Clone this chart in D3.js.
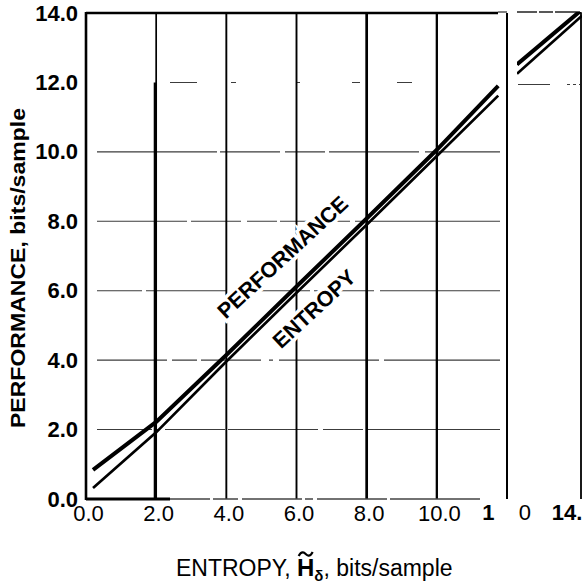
<!DOCTYPE html>
<html>
<head>
<meta charset="utf-8">
<script src="https://cdn.jsdelivr.net/npm/d3@7"></script>
<style>
  html, body { margin: 0; padding: 0; background: #fff; }
  svg { display: block; }
</style>
</head>
<body>
<svg id="chart" width="582" height="585"></svg>
<script>
/* ── Data ───────────────────────────────────────────── */

const entropyTicks  = [0, 2, 4, 6, 8, 10];
const entropyLabels = ['0.0', '2.0', '4.0', '6.0', '8.0', '10.0'];
const perfTicks     = [0, 2, 4, 6, 8, 10, 12, 14];
const perfLabels    = ['0.0', '2.0', '4.0', '6.0', '8.0', '10.0', '12.0', '14.0'];

// Main panel (entropy 0 – 12)
const entropyX     = [0.2, 2.0, 4.0, 6.0, 8.0, 10.0, 11.75];
const entropyCurve = [0.32, 1.92, 3.96, 5.94, 7.90, 9.88, 11.62];
const perfCurve    = [0.84, 2.22, 4.15, 6.12, 8.08, 10.06, 11.90];

// Narrow strip spliced on at the right edge
const stripX       = [12.35, 14.0];
const stripEntropy = [12.25, 13.92];
const stripPerf    = [12.52, 14.10];

// What survives of the "12.0" / "14.0" tick labels in the scan
const brokenLabels = ['1', '0', '14.'];
const brokenAt     = [11.47, 12.55, 13.62];
const brokenBold   = [true, false, true];

/* ── Setup ───────────────────────────────────────────── */

const FONT = "'Liberation Sans', Arial, Helvetica, sans-serif";
const svg  = d3.select('#chart').attr('font-family', FONT);

const x  = d3.scaleLinear().domain([0, 12]).range([86, 507]);
const x2 = d3.scaleLinear().domain([12.35, 14]).range([517, 582]);
const y  = d3.scaleLinear().domain([0, 14]).range([499, 13]);
const xAt = v => (v <= 12 ? x(v) : x2(v));

const defs = svg.append('defs');
defs.append('clipPath').attr('id', 'clip-main')
  .append('rect').attr('x', x(0)).attr('y', y(14)).attr('width', x(12) - x(0)).attr('height', y(0) - y(14));
defs.append('clipPath').attr('id', 'clip-strip')
  .append('rect').attr('x', x2.range()[0]).attr('y', y(14) - 1).attr('width', 65).attr('height', y(0) - y(14));

/* ── Horizontal grid (faint, broken up by the scan) ─── */

const hDash = {
  2:  '55,4,3,6,60,3,90,5,40,4,150',
  4:  '70,5,25,4,60,8,4,6,100,5,150',
  6:  '45,4,80,6,3,5,70,4,60,6,150',
  8:  '90,4,50,6,30,3,70,5,150',
  10: '120,3,60,5,40,4,90,6,150',
  12: '0,73,27,34,5,60,4,52,8,37,15,400'
};

const grid = svg.append('g').attr('class', 'grid');
perfTicks.filter(v => v > 0 && v < 14).forEach(v => {
  grid.append('line')
    .attr('x1', 97).attr('x2', 500)
    .attr('y1', y(v)).attr('y2', y(v))
    .attr('stroke', '#3c3c3c')
    .attr('stroke-width', 1.1)
    .attr('stroke-dasharray', hDash[v]);
});

// strip: fragments of the 12.0 line and its top edge
grid.append('line')
  .attr('x1', 518).attr('x2', 580).attr('y1', y(12) + 2).attr('y2', y(12) + 2)
  .attr('stroke', '#3c3c3c').attr('stroke-width', 1.1)
  .attr('stroke-dasharray', '32,17,3,3,3,3,3,50');
grid.append('line')
  .attr('x1', 517).attr('x2', 580).attr('y1', y(14) - 1).attr('y2', y(14) - 1)
  .attr('stroke', '#222').attr('stroke-width', 1.3)
  .attr('stroke-dasharray', '20,2,14,2,30');

/* ── Vertical grid (solid black rules) ───────────────── */

const vWidth = { 2: 1.7, 4: 1.9, 6: 1.9, 8: 2.7, 10: 2.3 };
entropyTicks.filter(v => v > 0).forEach(v => {
  grid.append('line')
    .attr('x1', x(v)).attr('x2', x(v))
    .attr('y1', y(14)).attr('y2', y(0))
    .attr('stroke', '#000')
    .attr('stroke-width', vWidth[v]);
});
// the 2.0 rule is heavier below 12.0
grid.append('line')
  .attr('x1', x(2) - 0.8).attr('x2', x(2) - 0.8)
  .attr('y1', y(12)).attr('y2', y(0))
  .attr('stroke', '#000').attr('stroke-width', 3.3);

/* ── Frame ───────────────────────────────────────────── */

const frame = svg.append('g').attr('class', 'frame').attr('stroke', '#000');
frame.append('line').attr('x1', x(0)).attr('x2', x(0)).attr('y1', y(14) - 1).attr('y2', y(0) + 1).attr('stroke-width', 2.6);
frame.append('line').attr('x1', x(0)).attr('x2', 498).attr('y1', y(14)).attr('y2', y(14)).attr('stroke-width', 2.5);
frame.append('line').attr('x1', 498).attr('x2', x(12)).attr('y1', y(14) - 1).attr('y2', y(14) - 1).attr('stroke-width', 1);
frame.append('line').attr('x1', x(12)).attr('x2', x(12)).attr('y1', y(14)).attr('y2', y(0)).attr('stroke-width', 2);
frame.append('line').attr('x1', 581).attr('x2', 581).attr('y1', y(14)).attr('y2', y(0)).attr('stroke-width', 1.8);
frame.append('line').attr('x1', x(0)).attr('x2', 170).attr('y1', y(0)).attr('y2', y(0)).attr('stroke-width', 3);
frame.append('line').attr('x1', 170).attr('x2', 500).attr('y1', y(0)).attr('y2', y(0))
  .attr('stroke', '#444').attr('stroke-width', 1.3).attr('stroke-dasharray', '40,3,25,4,60,3,8,4,70,3,90');

/* ── Curve labels (white halo knocks out the grid) ──── */

const curveLabels = [
  { text: 'PERFORMANCE', at: [5.6, 6.97] },
  { text: 'ENTROPY',     at: [6.5, 5.48] }
];
curveLabels.forEach(l => {
  svg.append('text')
    .attr('transform', `translate(${x(l.at[0])},${y(l.at[1])}) rotate(-42.7)`)
    .attr('text-anchor', 'middle')
    .attr('dy', '0.35em')
    .attr('font-size', 21.5)
    .attr('font-weight', 'bold')
    .attr('fill', '#000')
    .attr('stroke', '#fff')
    .attr('stroke-width', 7)
    .attr('paint-order', 'stroke')
    .text(l.text);
});

/* ── Curves ──────────────────────────────────────────── */

function drawCurve(xs, ys, sx, clip, width) {
  const line = d3.line().x(d => sx(d[0])).y(d => y(d[1]));
  svg.append('path')
    .attr('d', line(xs.map((v, i) => [v, ys[i]])))
    .attr('clip-path', `url(#${clip})`)
    .attr('fill', 'none')
    .attr('stroke', '#000')
    .attr('stroke-width', width);
}
drawCurve(entropyX, perfCurve,    x,  'clip-main',  4);
drawCurve(entropyX, entropyCurve, x,  'clip-main',  2.7);
drawCurve(stripX,   stripPerf,    x2, 'clip-strip', 4);
drawCurve(stripX,   stripEntropy, x2, 'clip-strip', 2.7);

/* ── Axes ────────────────────────────────────────────── */

svg.append('g')
  .attr('transform', `translate(${x(0)},0)`)
  .call(d3.axisLeft(y).tickValues(perfTicks).tickFormat((d, i) => perfLabels[i]).tickSize(0).tickPadding(8))
  .call(g => g.select('.domain').remove())
  .attr('font-family', FONT)
  .attr('font-size', 22)
  .attr('font-weight', 'bold')
  .selectAll('text').attr('fill', '#000');

svg.append('g')
  .attr('transform', `translate(0,${y(0)})`)
  .call(d3.axisBottom(x).tickValues(entropyTicks).tickFormat((d, i) => entropyLabels[i]).tickSize(0).tickPadding(6))
  .call(g => g.select('.domain').remove())
  .attr('font-family', FONT)
  .attr('font-size', 22)
  .selectAll('text').attr('fill', '#000').attr('dx', 2);

brokenLabels.forEach((t, i) => {
  svg.append('text')
    .attr('x', xAt(brokenAt[i]))
    .attr('y', y(0) + 21)
    .attr('text-anchor', 'middle')
    .attr('font-size', 22)
    .attr('font-weight', brokenBold[i] ? 'bold' : 'normal')
    .text(t);
});

/* ── Axis titles ─────────────────────────────────────── */

svg.append('text')
  .attr('transform', 'translate(17.5,268) rotate(-90)')
  .attr('text-anchor', 'middle')
  .attr('dy', '0.35em')
  .attr('font-size', 20)
  .attr('font-weight', 'bold')
  .attr('textLength', 320)
  .attr('lengthAdjust', 'spacingAndGlyphs')
  .text('PERFORMANCE, bits/sample');

const titleY = 576;
const xTitle = svg.append('text')
  .attr('x', 176)
  .attr('y', titleY)
  .attr('font-size', 23);
xTitle.append('tspan').text('ENTROPY, ');
xTitle.append('tspan').attr('font-weight', 'bold').attr('font-size', 24).text('H');
xTitle.append('tspan').attr('font-weight', 'bold').attr('font-size', 15).attr('dy', 5).text('δ');
xTitle.append('tspan').attr('dy', -5).text(', bits/sample');

// tilde over the H, drawn as a small stroke
const hBox = xTitle.node().getExtentOfChar(9);
const tx = hBox.x + hBox.width / 2, ty = titleY - 22;
const tilde = d3.path();
tilde.moveTo(tx - 7, ty + 2);
tilde.bezierCurveTo(tx - 4, ty - 4, tx - 1, ty - 1, tx, ty);
tilde.bezierCurveTo(tx + 1, ty + 1, tx + 4, ty + 4, tx + 7, ty - 2);
svg.append('path')
  .attr('d', tilde.toString())
  .attr('fill', 'none')
  .attr('stroke', '#000')
  .attr('stroke-width', 2.2);
</script>
</body>
</html>
